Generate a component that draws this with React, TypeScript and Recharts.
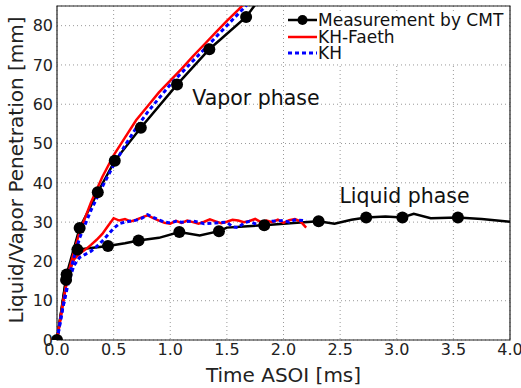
import React from "react";
import {
  CartesianGrid,
  ComposedChart,
  Legend,
  Line,
  ReferenceArea,
  ReferenceDot,
  Scatter,
  XAxis,
  YAxis,
} from "recharts";

// measurement by CMT, vapor penetration (line + markers)
const cmtVaporTime = [0, 0.085, 0.2, 0.36, 0.51, 0.74, 1.06, 1.345, 1.67, 1.78];
const cmtVaporPen = [0, 16.7, 28.5, 37.6, 45.6, 54, 65, 74, 82.2, 86.5];

// measurement by CMT, liquid length
const cmtLiquidTime = [0, 0.08, 0.18, 0.3, 0.45, 0.6, 0.72, 0.9, 1.08, 1.26, 1.43, 1.5, 1.65, 1.83, 2.0, 2.15, 2.31, 2.45, 2.6, 2.73, 2.9, 3.05, 3.15, 3.3, 3.54, 3.75, 4.0];
const cmtLiquidPen = [0, 15.3, 23, 23.4, 23.9, 24.6, 25.3, 26, 27.5, 26.6, 27.7, 28.6, 28.9, 29.2, 29.6, 29.9, 30.2, 29.6, 30.6, 31.2, 31.4, 31.2, 32.1, 31.0, 31.2, 30.8, 30.1];
const cmtLiquidMarkTime = [0.08, 0.18, 0.45, 0.72, 1.08, 1.43, 1.83, 2.31, 2.73, 3.05, 3.54];
const cmtLiquidMarkPen = [15.3, 23, 23.9, 25.3, 27.5, 27.7, 29.2, 30.2, 31.2, 31.2, 31.2];

// KH-Faeth model
const faethVaporTime = [0, 0.05, 0.1, 0.15, 0.2, 0.3, 0.4, 0.5, 0.6, 0.7, 0.8, 0.9, 1.0, 1.1, 1.2, 1.3, 1.4, 1.5, 1.6, 1.7];
const faethVaporPen = [0, 9, 17, 22.5, 27.5, 35, 41.5, 47, 51.5, 56, 59.5, 63, 66, 69, 72.2, 75.2, 78.2, 81.2, 84, 87];
const faethLiquidTime = [0, 0.05, 0.1, 0.15, 0.2, 0.25, 0.3, 0.35, 0.4, 0.45, 0.5, 0.55, 0.6, 0.65, 0.7, 0.75, 0.8, 0.85, 0.9, 0.95, 1.0, 1.05, 1.1, 1.15, 1.2, 1.25, 1.3, 1.35, 1.4, 1.45, 1.5, 1.55, 1.6, 1.65, 1.7, 1.75, 1.8, 1.85, 1.9, 1.95, 2.0, 2.05, 2.1, 2.15, 2.2];
const faethLiquidPen = [0, 9, 17, 20.5, 22, 23, 24.2, 25.5, 27, 29, 31, 30.4, 30.8, 30.2, 30.6, 31.2, 31.7, 31, 30.4, 29.8, 29.6, 30.3, 29.8, 30.4, 30, 29.6, 30.1, 30.7, 30.2, 29.7, 30.1, 30.6, 30.4, 30, 30.3, 30.8, 30, 30.4, 30, 30.6, 29.8, 30.5, 30.8, 30.2, 28.6];

// KH model
const khVaporTime = [0, 0.05, 0.1, 0.15, 0.2, 0.3, 0.4, 0.5, 0.6, 0.7, 0.8, 0.9, 1.0, 1.1, 1.2, 1.3, 1.4, 1.5, 1.6, 1.7];
const khVaporPen = [0, 8, 15.5, 21, 26, 33, 39, 44.5, 49.5, 54, 58, 61.5, 65, 68, 71, 74, 77, 80, 83, 86];
const khLiquidTime = [0, 0.05, 0.1, 0.15, 0.2, 0.25, 0.3, 0.35, 0.4, 0.45, 0.5, 0.55, 0.6, 0.65, 0.7, 0.75, 0.8, 0.85, 0.9, 0.95, 1.0, 1.05, 1.1, 1.2, 1.3, 1.4, 1.5, 1.55, 1.6, 1.65, 1.7, 1.8, 1.85, 1.9, 2.0, 2.05, 2.1, 2.2];
const khLiquidPen = [0, 8, 14.5, 19, 21, 21.8, 22.6, 23.8, 25.2, 26.8, 28.4, 29.6, 30, 30.3, 30.5, 31, 31.9, 31.2, 30.6, 30, 29.8, 30.2, 30, 30.3, 29.6, 29.8, 30, 28.8, 28.6, 29.8, 30.2, 29, 29.6, 30.2, 30.4, 30, 30.6, 30.3];

const xTicks = [0, 0.5, 1.0, 1.5, 2.0, 2.5, 3.0, 3.5, 4.0];
const yTicks = [0, 10, 20, 30, 40, 50, 60, 70, 80];

const zip = (t: number[], p: number[]) => t.map((v, i) => ({ t: v, p: p[i] }));

const cmtVapor = zip(cmtVaporTime, cmtVaporPen);
const cmtLiquid = zip(cmtLiquidTime, cmtLiquidPen);
const cmtMarkers = [...cmtVapor.slice(0, -1), ...zip(cmtLiquidMarkTime, cmtLiquidMarkPen)];
const faethVapor = zip(faethVaporTime, faethVaporPen);
const faethLiquid = zip(faethLiquidTime, faethLiquidPen);
const khVapor = zip(khVaporTime, khVaporPen);
const khLiquid = zip(khLiquidTime, khLiquidPen);

const FONT = "'DejaVu Sans', sans-serif";

function renderLegend() {
  const row: React.CSSProperties = { display: "flex", alignItems: "center", height: 16.5, whiteSpace: "nowrap" };
  return (
    <div style={{ fontFamily: FONT, fontSize: 17, color: "#111", lineHeight: "16px" }}>
      <div style={row}>
        <svg width={32} height={16}>
          <line x1={2} y1={8} x2={31} y2={8} stroke="#000" strokeWidth={2.5} />
          <circle cx={16.5} cy={8} r={5} fill="#000" />
        </svg>
        <span>Measurement by CMT</span>
      </div>
      <div style={row}>
        <svg width={32} height={16}>
          <line x1={2} y1={8} x2={31} y2={8} stroke="#ff0000" strokeWidth={2.5} />
        </svg>
        <span>KH-Faeth</span>
      </div>
      <div style={row}>
        <svg width={32} height={16}>
          <line x1={2} y1={8} x2={31} y2={8} stroke="#0000ff" strokeWidth={3} strokeDasharray="4 3" />
        </svg>
        <span>KH</span>
      </div>
    </div>
  );
}

export default function App() {
  return (
    <div style={{ position: "absolute", left: 0, top: 0, background: "#fff", fontFamily: FONT }}>
      <ComposedChart width={521} height={388} margin={{ top: 6, right: 11, left: 0, bottom: 0 }}>
        <CartesianGrid stroke="#9a9a9a" strokeDasharray="1 3" />
        <XAxis
          dataKey="t"
          type="number"
          domain={[0, 4]}
          ticks={xTicks}
          tickFormatter={(v: number) => v.toFixed(1)}
          height={48}
          axisLine={false}
          tickLine={false}
          tickSize={0}
          tickMargin={4}
          tick={{ fill: "#222", fontSize: 16, fontFamily: FONT }}
          label={{ value: "Time ASOI [ms]", position: "insideBottom", offset: 6, fill: "#222", fontSize: 20, fontFamily: FONT }}
        />
        <YAxis
          dataKey="p"
          type="number"
          domain={[0, 85]}
          ticks={yTicks}
          allowDataOverflow
          width={57}
          axisLine={false}
          tickLine={false}
          tickSize={0}
          tickMargin={4}
          tick={{ fill: "#222", fontSize: 16, fontFamily: FONT }}
          label={{
            content: () => (
              <text
                x={16}
                y={170}
                transform="rotate(-90, 16, 170)"
                textAnchor="middle"
                dominantBaseline="central"
                fill="#222"
                fontSize={20}
                fontFamily={FONT}
              >
                Liquid/Vapor Penetration [mm]
              </text>
            ),
          }}
        />
        <Line data={cmtVapor} dataKey="p" stroke="#000" strokeWidth={2.5} dot={false} isAnimationActive={false} />
        <Line data={cmtLiquid} dataKey="p" stroke="#000" strokeWidth={2.5} dot={false} isAnimationActive={false} />
        <Scatter
          data={cmtMarkers}
          dataKey="p"
          isAnimationActive={false}
          shape={(props: any) => <circle cx={props.cx} cy={props.cy} r={6} fill="#000" />}
        />
        <Line data={faethVapor} dataKey="p" stroke="#ff0000" strokeWidth={2.5} dot={false} isAnimationActive={false} />
        <Line data={faethLiquid} dataKey="p" stroke="#ff0000" strokeWidth={2.5} dot={false} isAnimationActive={false} />
        <Line data={khVapor} dataKey="p" stroke="#0000ff" strokeWidth={3} strokeDasharray="4 3" dot={false} isAnimationActive={false} />
        <Line data={khLiquid} dataKey="p" stroke="#0000ff" strokeWidth={3} strokeDasharray="4 3" dot={false} isAnimationActive={false} />
        <ReferenceDot
          x={1.15}
          y={61.7}
          r={0}
          fill="none"
          stroke="none"
          label={{ value: "Vapor phase", position: "right", fill: "#111", fontSize: 20.5, fontFamily: FONT }}
        />
        <ReferenceDot
          x={2.45}
          y={36.8}
          r={0}
          fill="none"
          stroke="none"
          label={{ value: "Liquid phase", position: "right", fill: "#111", fontSize: 20.5, fontFamily: FONT }}
        />
        <ReferenceArea x1={0} x2={4} y1={0} y2={85} fill="none" stroke="#222" strokeWidth={1.2} />
        <Legend
          layout="horizontal"
          verticalAlign="middle"
          align="center"
          content={renderLegend}
          wrapperStyle={{ position: "absolute", left: 286, top: 11, width: 222, background: "#fff", padding: "1px 0" }}
        />
      </ComposedChart>
    </div>
  );
}
